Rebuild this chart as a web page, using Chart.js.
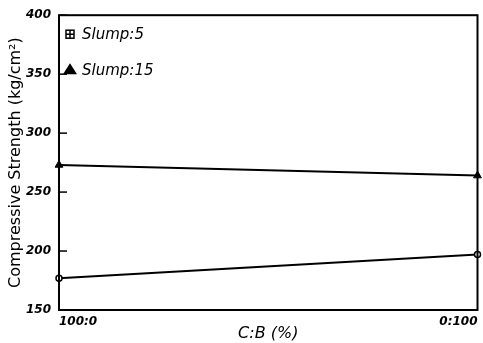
<!DOCTYPE html>
<html>
<head>
<meta charset="utf-8">
<script src="https://cdn.jsdelivr.net/npm/chart.js@4.4.1/dist/chart.umd.min.js"></script>
<style>
  html, body { margin: 0; padding: 0; background: #fff; }
  #wrap { width: 483px; height: 343px; }
</style>
</head>
<body>
<div id="wrap"><canvas id="strengthChart"></canvas></div>
<script>
const categories = ["100:0", "0:100"];
const slump5 = [177, 197];
const slump15 = [273, 264];
const seriesLabels = ["Slump:5", "Slump:15"];
const yTicks = [150, 200, 250, 300, 350, 400];

const ctx = document.getElementById("strengthChart").getContext("2d");

// frame, inner ticks and in-plot legend
const framePlugin = {
  id: "frame",
  afterDraw(chart) {
    const { ctx, chartArea: a, scales } = chart;
    ctx.save();
    ctx.strokeStyle = "#000";
    ctx.lineWidth = 2;
    ctx.strokeRect(a.left, a.top, a.right - a.left, a.bottom - a.top);

    ctx.lineWidth = 1.5;
    yTicks.forEach((v) => {
      const y = scales.y.getPixelForValue(v);
      ctx.beginPath();
      ctx.moveTo(a.left, y);
      ctx.lineTo(a.left + 8, y);
      ctx.stroke();
    });

    // legend
    ctx.font = "italic 15px 'DejaVu Sans'";
    ctx.textBaseline = "middle";
    ctx.fillStyle = "#000";
    const rows = [a.top + 19, a.top + 55];
    chart.data.datasets.forEach((ds, i) => {
      const y = rows[i];
      const x = a.left + 11;
      if (i === 0) {
        ctx.lineWidth = 1.5;
        ctx.strokeRect(x - 4, y - 4, 8, 8);
        ctx.beginPath();
        ctx.moveTo(x, y - 4);
        ctx.lineTo(x, y + 4);
        ctx.moveTo(x - 4, y);
        ctx.lineTo(x + 4, y);
        ctx.stroke();
      } else {
        ctx.beginPath();
        ctx.moveTo(x, y - 7);
        ctx.lineTo(x + 7, y + 4);
        ctx.lineTo(x - 7, y + 4);
        ctx.closePath();
        ctx.fill();
      }
      ctx.fillText(ds.label, x + 12, y + 1);
    });
    ctx.restore();
  },
};

let config = {
  type: "line",
  data: {
    labels: categories,
    datasets: [
      {
        label: seriesLabels[0],
        data: slump5,
        borderColor: "#000",
        backgroundColor: "#fff",
        borderWidth: 2,
        pointStyle: "circle",
        pointRadius: 3,
        pointBorderWidth: 1.5,
        clip: false,
        tension: 0,
      },
      {
        label: seriesLabels[1],
        data: slump15,
        borderColor: "#000",
        backgroundColor: "#000",
        borderWidth: 2,
        pointStyle: "triangle",
        pointRadius: 4.5,
        pointBorderWidth: 1,
        clip: false,
        tension: 0,
      },
    ],
  },
  options: {
    responsive: true,
    maintainAspectRatio: false,
    animation: false,
    layout: { padding: { top: 13, right: 1, left: 0, bottom: 0 } },
    plugins: {
      legend: { display: false },
      tooltip: { enabled: false },
    },
    scales: {
      x: {
        type: "category",
        offset: false,
        grid: { display: false, drawTicks: false },
        border: { display: false },
        afterFit: (s) => { s.height = 33; },
        ticks: {
          align: "inner",
          padding: 5,
          maxRotation: 0,
          color: "#000",
          font: { family: "'DejaVu Sans'", size: 12, style: "italic", weight: "bold" },
        },
        title: {
          display: true,
          text: "C:B (%)",
          color: "#000",
          padding: { top: 0, bottom: 0 },
          font: { family: "'DejaVu Sans'", size: 16, style: "italic" },
        },
      },
      y: {
        min: 150,
        max: 400,
        grid: { display: false, drawTicks: false },
        border: { display: false },
        afterFit: (s) => { s.width = 59; },
        afterBuildTicks: (s) => { s.ticks = yTicks.map((v) => ({ value: v })); },
        ticks: {
          padding: 8,
          color: "#000",
          font: { family: "'DejaVu Sans'", size: 12, style: "italic", weight: "bold" },
        },
        title: {
          display: true,
          text: "Compressive Strength (kg/cm²)",
          color: "#000",
          padding: { top: 6, bottom: 0 },
          font: { family: "'DejaVu Sans'", size: 16 },
        },
      },
    },
  },
  plugins: [framePlugin],
};

let strengthChart = new Chart(ctx, config);
</script>
</body>
</html>
